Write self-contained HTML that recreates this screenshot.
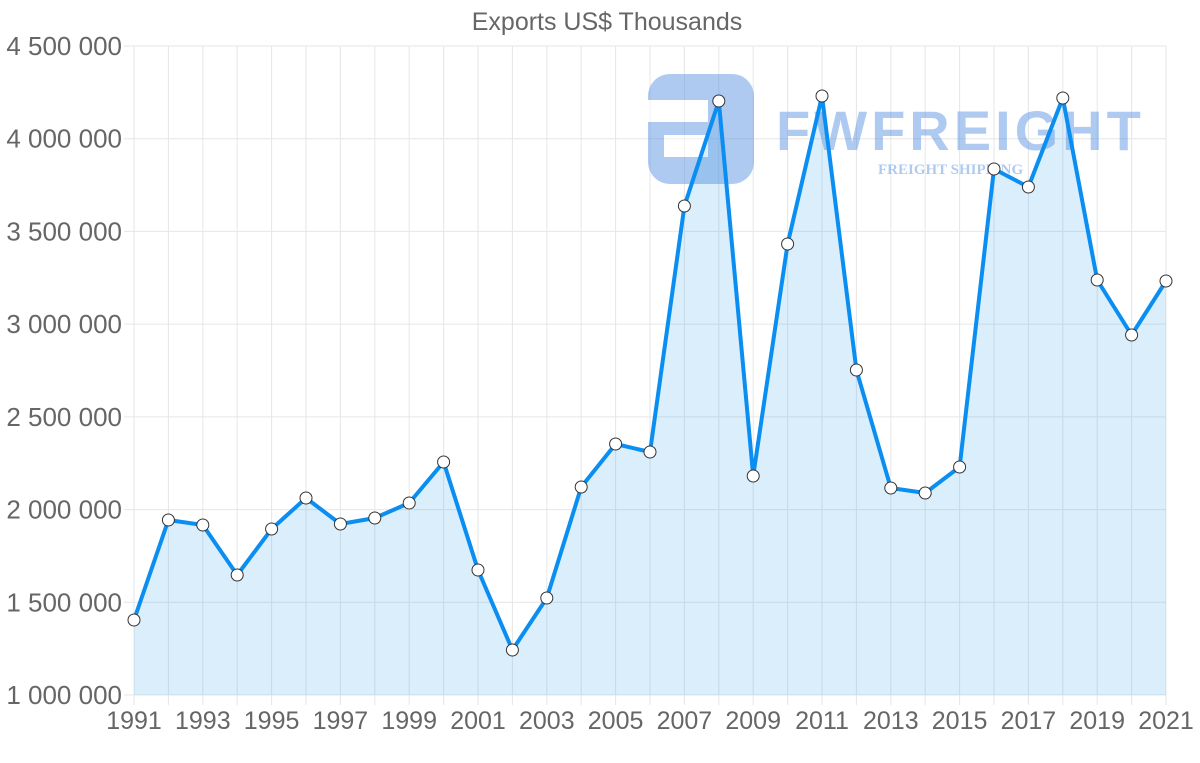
<!DOCTYPE html>
<html><head><meta charset="utf-8"><style>
html,body{margin:0;padding:0;background:#fff;}
svg{display:block;font-family:"Liberation Sans",sans-serif;}
</style></head><body>
<svg width="1200" height="763" viewBox="0 0 1200 763" xmlns="http://www.w3.org/2000/svg">
<text x="607" y="30" text-anchor="middle" font-size="25" fill="#666">Exports US$ Thousands</text>
<g id="grid" stroke="#e6e6e6" stroke-width="1"></g>
<g opacity="0.45">
<rect x="648" y="74" width="106" height="110" rx="22" fill="#4f8be0"/>
<rect x="648" y="100" width="60" height="22" fill="#fff"/>
<rect x="664" y="135" width="44" height="22" fill="#fff"/>
<text x="776" y="150" font-size="56" font-weight="bold" fill="#4f8be0" letter-spacing="4">FWFREIGHT</text>
<text x="878" y="174" font-size="15" font-weight="bold" fill="#4f8be0" font-family="Liberation Serif,serif">FREIGHT SHIPPING</text>
</g>
<path id="area" fill="rgba(54,162,235,0.18)" stroke="none"/>
<path id="line" fill="none" stroke="#0a8ef2" stroke-width="4" stroke-linejoin="round"/>
<g id="pts"></g>
<g id="ylab" font-size="26" fill="#666" text-anchor="end"></g>
<g id="xlab" font-size="25" fill="#666" text-anchor="middle"></g>
</svg>
<script>
var ys=[620,520,525,575,529,498,524,518,503,462,570,650,598,487,444,452,206,101,476,244,96,370,488,493,467,169,187,98,280,335,281];
var x0=134,x1=1166,dx=(x1-x0)/30,NS="http://www.w3.org/2000/svg";
function el(t,a,p,txt){var e=document.createElementNS(NS,t);for(var k in a)e.setAttribute(k,a[k]);if(txt)e.textContent=txt;document.getElementById(p).appendChild(e);}
for(var i=0;i<=30;i++){var x=x0+i*dx;el("line",{x1:x,x2:x,y1:46,y2:705},"grid");if(i%2==0)el("text",{x:x,y:729},"xlab",String(1991+i));}
var labs=["1 000 000","1 500 000","2 000 000","2 500 000","3 000 000","3 500 000","4 000 000","4 500 000"];
for(var j=0;j<8;j++){var y=695-j*(649/7);el("line",{x1:124,x2:1166,y1:y,y2:y},"grid");el("text",{x:122,y:y+9},"ylab",labs[j]);}
var d="";ys.forEach(function(y,i){d+=(i?"L":"M")+(x0+i*dx)+","+y;});
document.getElementById("line").setAttribute("d",d);
document.getElementById("area").setAttribute("d",d+"L"+x1+",695L"+x0+",695Z");
ys.forEach(function(y,i){el("circle",{cx:x0+i*dx,cy:y,r:6,fill:"#fff",stroke:"#333","stroke-width":1},"pts");});
</script>
</body></html>
